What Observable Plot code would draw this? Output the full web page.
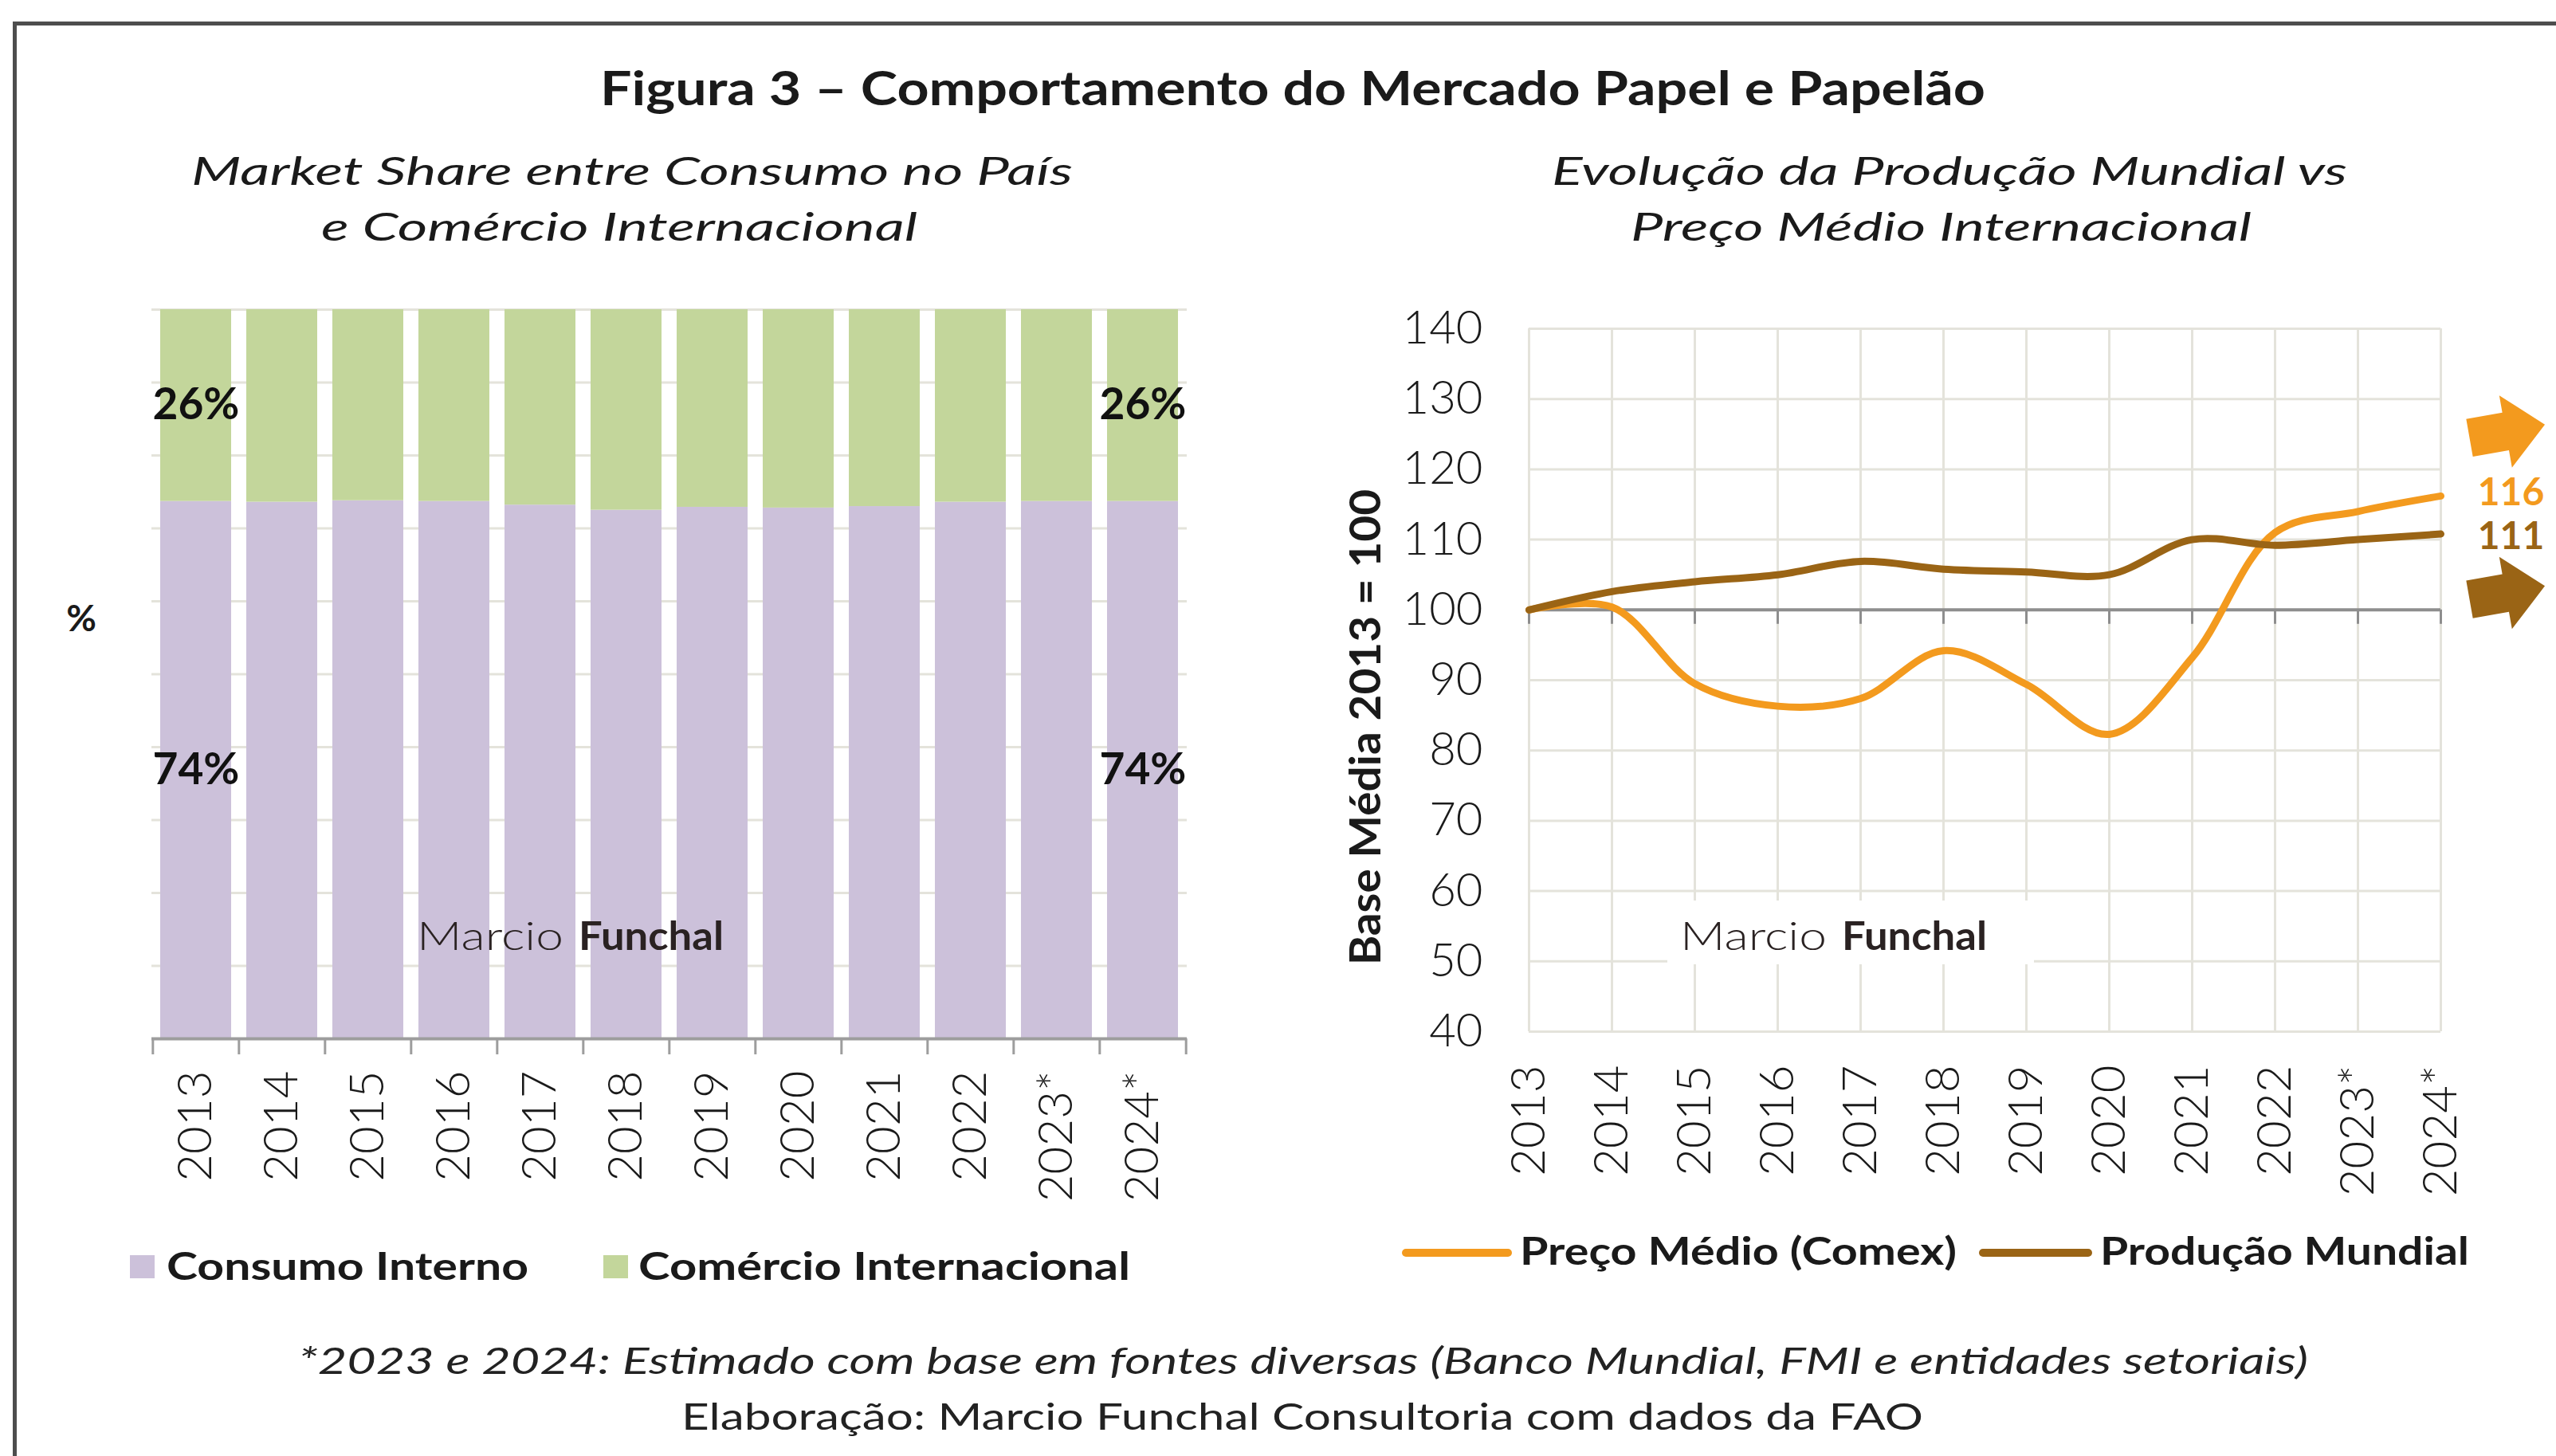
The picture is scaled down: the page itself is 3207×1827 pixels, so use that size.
<!DOCTYPE html>
<html><head><meta charset="utf-8">
<script src="https://cdn.jsdelivr.net/npm/d3@7"></script>
<script src="https://cdn.jsdelivr.net/npm/@observablehq/plot@0.6"></script>
<style>
html,body{margin:0;padding:0;background:#fff;width:3207px;height:1827px;overflow:hidden;font-family:Lato,"Open Sans",sans-serif;color:#1a1a1a;}
.abs{position:absolute;white-space:nowrap;line-height:1;transform-origin:0 0;}
#frame{position:absolute;left:16px;top:27px;width:3400px;height:2000px;border:5px solid #4d4d4d;box-sizing:border-box;}
.chart{position:absolute;}
</style></head><body>
<div id="frame"></div>
<script>
// ---------- data ----------
const years = ["2013","2014","2015","2016","2017","2018","2019","2020","2021","2022","2023*","2024*"];
const shareSeries = ["Consumo Interno", "Comércio Internacional"];
const consumoInterno        = [73.7, 73.6, 73.8, 73.7, 73.2, 72.5, 72.9, 72.8, 73.0, 73.6, 73.7, 73.7];
const comercioInternacional = [26.3, 26.4, 26.2, 26.3, 26.8, 27.5, 27.1, 27.2, 27.0, 26.4, 26.3, 26.3];
const shareTicks = [0, 10, 20, 30, 40, 50, 60, 70, 80, 90, 100];

const lineSeries = ["Preço Médio (Comex)", "Produção Mundial"];
const precoMedio      = [100, 100.4, 89.5, 86.3, 87.4, 94.2, 89.4, 82.3, 93.2, 111.0, 114.0, 116.2];
const producaoMundial = [100, 102.6, 104.0, 105.0, 106.9, 105.8, 105.4, 105.0, 110.0, 109.2, 110.0, 110.8];
const indexTicks = [40, 50, 60, 70, 80, 90, 100, 110, 120, 130, 140];
const baseValue = 100;

const shareColors = ["#ccc1da", "#c3d69b"];
const lineColors = ["#f39a1e", "#9a6415"];

// ---------- helpers ----------
function label(txt, o) {
  const d = document.createElement("div");
  d.className = "abs";
  d.style.fontSize = o.size + "px";
  d.style.fontWeight = o.weight || 400;
  if (o.italic) d.style.fontStyle = "italic";
  d.style.color = o.color || "#1a1a1a";
  d.textContent = txt;
  const b = document.createElement("span");
  b.style.cssText = "display:inline-block;width:0;height:0;vertical-align:baseline";
  d.appendChild(b);
  document.body.appendChild(d);
  let width = d.getBoundingClientRect().width;
  if (o.w) {
    d.style.transform = `scaleX(${o.w / width})`;
    width = o.w;
  }
  const base = b.offsetTop;
  const anchor = o.anchor || "middle";
  const left = anchor === "middle" ? o.x - width / 2 : anchor === "end" ? o.x - width : o.x;
  d.style.left = left + "px";
  d.style.top = (o.y - base) + "px";
  return d;
}

// ---------- titles ----------
label("Figura 3 – Comportamento do Mercado Papel e Papelão", {x: 1622, y: 132, size: 60, weight: 700, w: 1738});
label("Market Share entre Consumo no País", {x: 793, y: 232, size: 49, italic: true, w: 1106});
label("e Comércio Internacional", {x: 777, y: 302, size: 49, italic: true, w: 748});
label("Evolução da Produção Mundial vs", {x: 2446, y: 232, size: 49, italic: true, w: 998});
label("Preço Médio Internacional", {x: 2435, y: 302, size: 49, italic: true, w: 779});

// ---------- left chart: stacked share ----------
const shareRows = years.flatMap((y, i) => [
  {year: y, serie: shareSeries[0], value: consumoInterno[i]},
  {year: y, serie: shareSeries[1], value: comercioInternacional[i]}
]);
const L = {width: 1560, height: 1233, marginLeft: 190, marginRight: 71, marginTop: 88, marginBottom: 230};
const padIn = 0.178, padOut = 0.083;
const step = (L.width - L.marginLeft - L.marginRight) / (years.length - padIn + 2 * padOut);
const edgeRows = [years[0], years[years.length - 1]];

const left = Plot.plot({
  ...L,
  style: {fontFamily: "Lato, sans-serif", color: "#1a1a1a", background: "transparent", overflow: "visible"},
  x: {domain: years, paddingInner: padIn, paddingOuter: padOut, label: null},
  y: {domain: [0, 100], axis: null},
  color: {domain: shareSeries, range: shareColors},
  marks: [
    Plot.gridY(shareTicks, {stroke: "#e4e3db", strokeOpacity: 1, strokeWidth: 3}),
    Plot.barY(shareRows, {x: "year", y: "value", fill: "serie", order: shareSeries}),
    Plot.text(shareRows.filter(d => edgeRows.includes(d.year)), Plot.stackY({
      x: "year", y: "value", z: "serie", order: shareSeries,
      text: d => `${Math.round(d.value)}%`, fontSize: 55, fontWeight: "bold", fill: "#111"
    })),
    Plot.ruleY([0], {stroke: "#9d9d9d", strokeWidth: 4}),
    Plot.ruleX(years, {x: d => d, y1: 0, y2: 0, insetBottom: -20, dx: -step / 2, stroke: "#9d9d9d", strokeWidth: 3}),
    Plot.ruleX([years[years.length - 1]], {x: d => d, y1: 0, y2: 0, insetBottom: -20, dx: step / 2, stroke: "#9d9d9d", strokeWidth: 3}),
    Plot.axisX({tickSize: 0, tickPadding: 40, tickRotate: -90, fontSize: 60, fontWeight: 300, label: null})
  ]
});
left.classList.add("chart");
left.style.left = "0px"; left.style.top = "300px";
document.body.appendChild(left);
label("%", {x: 102, y: 792, size: 46, weight: 700});

// ---------- right chart: index lines ----------
const lineRows = years.flatMap((y, i) => [
  {year: y, serie: lineSeries[0], value: precoMedio[i]},
  {year: y, serie: lineSeries[1], value: producaoMundial[i]}
]);
const R = {width: 1607, height: 1234, marginLeft: 318, marginRight: 145, marginTop: 112, marginBottom: 240};
const blockArrow = {
  draw(ctx, l) {
    const hw = 46, sw = 24, hl = 50;
    ctx.moveTo(-sw, 0); ctx.lineTo(-sw, -(l - hl)); ctx.lineTo(-hw, -(l - hl));
    ctx.lineTo(0, -l); ctx.lineTo(hw, -(l - hl)); ctx.lineTo(sw, -(l - hl)); ctx.lineTo(sw, 0);
    ctx.closePath();
  }
};
const lastOf = s => lineRows.filter(d => d.serie === s).slice(-1);
const yTitle = "Base Média 2013 = 100";

const right = Plot.plot({
  ...R,
  style: {fontFamily: "Lato, sans-serif", color: "#1a1a1a", background: "transparent", overflow: "visible"},
  x: {type: "point", domain: years, padding: 0, label: null},
  y: {domain: [40, 140], label: null},
  color: {domain: lineSeries, range: lineColors},
  marks: [
    Plot.gridX(years, {stroke: "#e4e3db", strokeOpacity: 1, strokeWidth: 3}),
    Plot.gridY(indexTicks, {stroke: "#e4e3db", strokeOpacity: 1, strokeWidth: 3}),
    Plot.ruleY([baseValue], {stroke: "#8e8e8e", strokeWidth: 4}),
    Plot.ruleX(years, {x: d => d, y1: baseValue, y2: baseValue, insetBottom: -18, stroke: "#8e8e8e", strokeWidth: 3}),
    Plot.line(lineRows, {x: "year", y: "value", z: "serie", stroke: "serie", curve: "catmull-rom", strokeWidth: 9, strokeLinecap: "round"}),
    Plot.text(lastOf(lineSeries[0]), {x: "year", y: "value", fill: "serie",
      text: d => Math.round(d.value), dx: 88, dy: -4, fontSize: 48, fontWeight: "bold"}),
    Plot.text(lastOf(lineSeries[1]), {x: "year", y: "value", fill: "serie",
      text: d => Math.round(d.value), dx: 88, dy: 4, fontSize: 48, fontWeight: "bold"}),
    Plot.vector(lastOf(lineSeries[0]), {x: "year", y: "value", fill: "serie", stroke: "none",
      shape: blockArrow, length: 96, rotate: 80, anchor: "start", dx: 36, dy: -73}),
    Plot.vector(lastOf(lineSeries[1]), {x: "year", y: "value", fill: "serie", stroke: "none",
      shape: blockArrow, length: 96, rotate: 80, anchor: "start", dx: 36, dy: 82}),
    Plot.axisY(indexTicks, {tickSize: 0, tickPadding: 58, fontSize: 58, fontWeight: 300, label: null}),
    Plot.axisX({tickSize: 0, tickPadding: 42, tickRotate: -90, fontSize: 60, fontWeight: 300, label: null}),
    Plot.text([yTitle], {text: d => d, frameAnchor: "left", textAnchor: "middle", rotate: -90, dx: -204, dy: 59,
      fontSize: 54, fontWeight: "bold"})
  ]
});
right.classList.add("chart");
right.style.left = "1600px"; right.style.top = "300px";
document.body.appendChild(right);
// stretch the axis title to the reference length
right.querySelectorAll("text").forEach(t => {
  if (t.textContent === yTitle) { t.setAttribute("textLength", 597); t.setAttribute("lengthAdjust", "spacingAndGlyphs"); }
});

// ---------- watermarks ----------
function watermark(x, y, bg) {
  if (bg) {
    const r = document.createElement("div");
    r.style.cssText = `position:absolute;left:${x - 16}px;top:${y - 62}px;width:460px;height:80px;background:${bg};`;
    document.body.appendChild(r);
  }
  label("Marcio", {x, y, size: 50, weight: 300, anchor: "start", w: 184, color: "#2a2222"});
  label("Funchal", {x: x + 203, y, size: 50, weight: 700, anchor: "start", w: 182, color: "#2a2222"});
}
watermark(523, 1192, null);
watermark(2108, 1192, "#fff");

// ---------- legends ----------
function square(x, y, c) {
  const s = document.createElement("div");
  s.style.cssText = `position:absolute;left:${x}px;top:${y}px;width:31px;height:29px;background:${c};`;
  document.body.appendChild(s);
}
function swatchLine(x, y, w, c) {
  const s = document.createElement("div");
  s.style.cssText = `position:absolute;left:${x}px;top:${y - 5}px;width:${w}px;height:10px;border-radius:5px;background:${c};`;
  document.body.appendChild(s);
}
square(163, 1575, shareColors[0]);
label(shareSeries[0], {x: 209, y: 1606, size: 47, weight: 700, anchor: "start", w: 454});
square(757, 1575, shareColors[1]);
label(shareSeries[1], {x: 801, y: 1606, size: 47, weight: 700, anchor: "start", w: 617});

swatchLine(1759, 1572, 138, lineColors[0]);
label(lineSeries[0], {x: 1907, y: 1587, size: 47, weight: 700, anchor: "start", w: 548});
swatchLine(2483, 1572, 142, lineColors[1]);
label(lineSeries[1], {x: 2635, y: 1587, size: 47, weight: 700, anchor: "start", w: 463});

// ---------- footnotes ----------
label("*2023 e 2024: Estimado com base em fontes diversas (Banco Mundial, FMI e entidades setoriais)",
  {x: 1635, y: 1724, size: 46, italic: true, w: 2522, color: "#222"});
label("Elaboração: Marcio Funchal Consultoria com dados da FAO",
  {x: 1634, y: 1794, size: 46, w: 1558, color: "#222"});
</script>
</body></html>
